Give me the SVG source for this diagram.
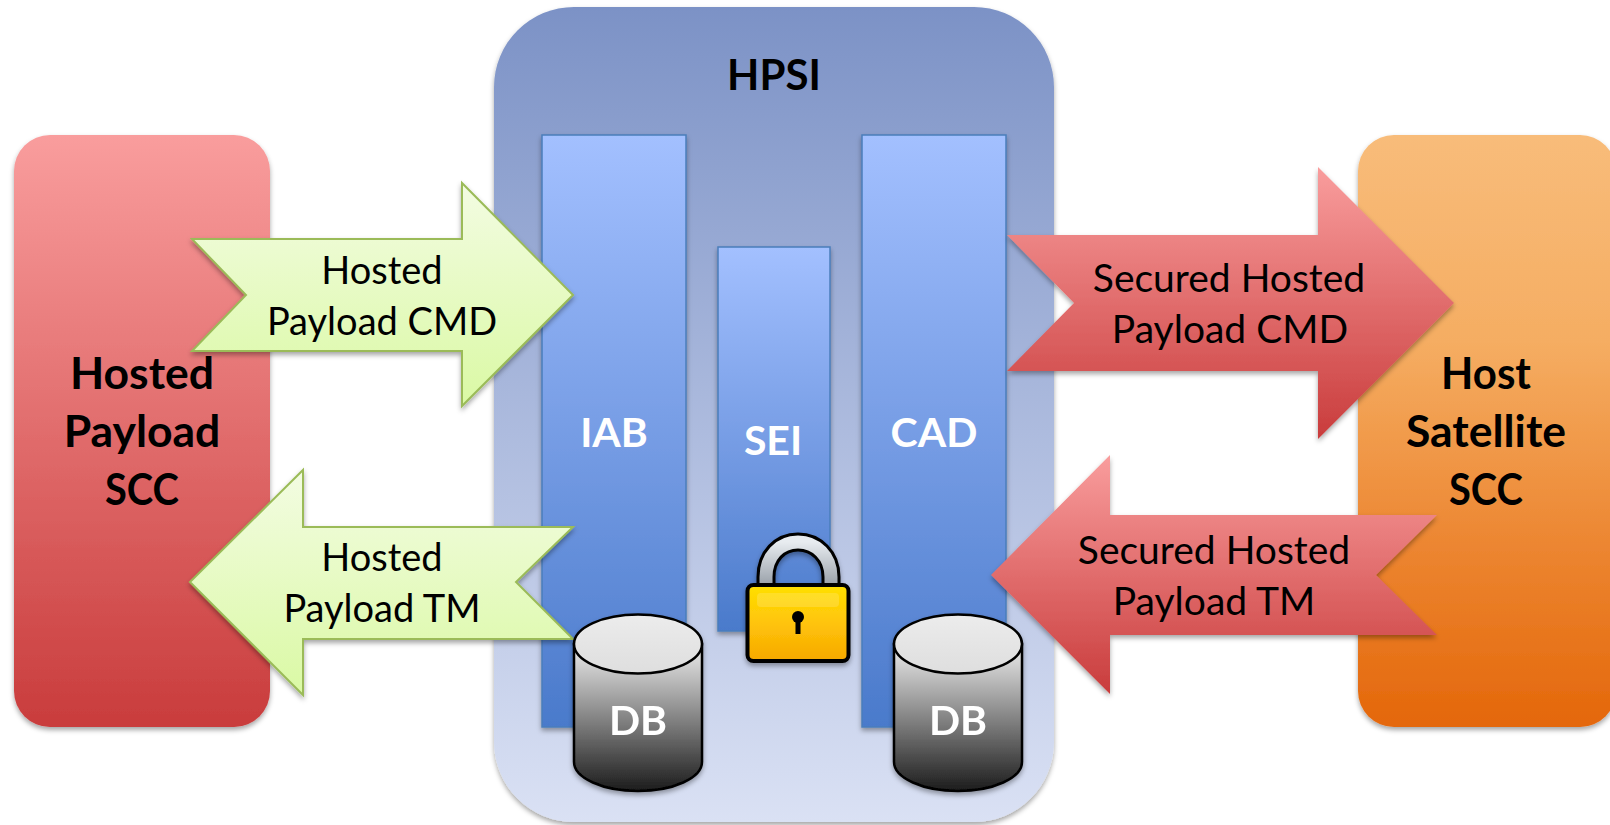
<svg xmlns="http://www.w3.org/2000/svg" width="1610" height="825" viewBox="0 0 1610 825">
<defs>
<linearGradient id="gHpsi" x1="0" y1="0" x2="0" y2="1"><stop offset="0" stop-color="#7c92c6"/><stop offset="1" stop-color="#dae1f4"/></linearGradient>
<linearGradient id="gBar" x1="0" y1="0" x2="0" y2="1"><stop offset="0" stop-color="#a3c0ff"/><stop offset="1" stop-color="#4a7acb"/></linearGradient>
<linearGradient id="gRed" x1="0" y1="0" x2="0" y2="1"><stop offset="0" stop-color="#f99d9d"/><stop offset="1" stop-color="#c93c3c"/></linearGradient>
<linearGradient id="gOrange" x1="0" y1="0" x2="0" y2="1"><stop offset="0" stop-color="#f8bc7a"/><stop offset="0.35" stop-color="#f5ad62"/><stop offset="0.7" stop-color="#ec8530"/><stop offset="1" stop-color="#e4670a"/></linearGradient>
<linearGradient id="gGreen" x1="0" y1="0" x2="0" y2="1"><stop offset="0" stop-color="#f3fce2"/><stop offset="1" stop-color="#daf9a4"/></linearGradient>
<linearGradient id="gCyl" x1="0" y1="0" x2="0" y2="1"><stop offset="0" stop-color="#eeeeee"/><stop offset="1" stop-color="#1c1c1c"/></linearGradient>
<linearGradient id="gTop" x1="0" y1="0" x2="0" y2="1"><stop offset="0" stop-color="#ececec"/><stop offset="1" stop-color="#dedede"/></linearGradient>
<linearGradient id="gLock" x1="0" y1="0" x2="0" y2="1"><stop offset="0" stop-color="#ffe000"/><stop offset="0.5" stop-color="#ffc40a"/><stop offset="1" stop-color="#f6a800"/></linearGradient>
<linearGradient id="gShackle" x1="0" y1="0" x2="0" y2="1"><stop offset="0" stop-color="#e8ecf0"/><stop offset="1" stop-color="#8d959e"/></linearGradient>
<filter id="shadow" x="-10%" y="-10%" width="120%" height="120%"><feDropShadow dx="0" dy="3" stdDeviation="2.5" flood-color="#000" flood-opacity="0.35"/></filter>
</defs>
<style>
text{font-family:Lato,"Open Sans","Liberation Sans",sans-serif;text-anchor:middle}
.t{font-size:38px;fill:#000}
.s{font-size:39px;fill:#000}
.b{font-size:44.500px;font-weight:700;fill:#000}
.h{font-size:42px;font-weight:700;fill:#000}
.w{font-size:41px;font-weight:700;fill:#fff}
.bar{fill:url(#gBar);stroke:#4a7ebb;stroke-width:1.5;filter:url(#shadow)}
.red{fill:url(#gRed);filter:url(#shadow)}
.green{fill:url(#gGreen);stroke:#9bbb59;stroke-width:2;filter:url(#shadow)}
.cyl{fill:url(#gCyl);stroke:#000;stroke-width:2.5}
</style>
<g id="hpsi"><rect x="494" y="7" width="560" height="815" rx="80" fill="url(#gHpsi)" filter="url(#shadow)"/><text class="h" x="774" y="90">HPSI</text></g>
<g id="hosted-payload-scc"><rect x="14" y="135" width="256" height="592" rx="36" fill="url(#gRed)" filter="url(#shadow)"/><text class="b" x="142" y="389">Hosted</text><text class="b" x="142" y="447">Payload</text><text class="b" x="142" y="505" textLength="74" lengthAdjust="spacingAndGlyphs">SCC</text></g>
<g id="host-satellite-scc"><rect x="1358" y="135" width="258" height="592" rx="36" fill="url(#gOrange)" filter="url(#shadow)"/><text class="b" x="1486" y="389" textLength="90" lengthAdjust="spacingAndGlyphs">Host</text><text class="b" x="1486" y="447">Satellite</text><text class="b" x="1486" y="505" textLength="74" lengthAdjust="spacingAndGlyphs">SCC</text></g>
<g id="iab"><rect class="bar" x="542" y="135" width="144" height="592"/><text class="w" x="614" y="447">IAB</text></g>
<g id="sei"><rect class="bar" x="718" y="247" width="112" height="384"/><text class="w" x="773" y="455">SEI</text></g>
<g id="cad"><rect class="bar" x="862" y="135" width="144" height="592"/><text class="w" x="934" y="447">CAD</text></g>
<g id="connectors">
<g id="arrow-hosted-cmd"><path class="green" d="M192 239H462V183L573 295L462 406V351H192L246 295Z"/><text class="t" x="382" y="284">Hosted</text><text class="t" x="382" y="335">Payload CMD</text></g>
<g id="arrow-hosted-tm"><path class="green" d="M190 582L303 470V527H573L516 582L573 639H303V695Z"/><text class="t" x="382" y="571">Hosted</text><text class="t" x="382" y="622">Payload TM</text></g>
<g id="arrow-secured-cmd"><path class="red" d="M1007 235H1318V167L1454 303L1318 439V371H1007L1074 303Z"/><text class="s" x="1229" y="292">Secured Hosted</text><text class="s" x="1230" y="343">Payload CMD</text></g>
<g id="arrow-secured-tm"><path class="red" d="M991 575L1110 455V515H1437L1376 575L1437 635H1110V694Z"/><text class="s" x="1214" y="564">Secured Hosted</text><text class="s" x="1214" y="615">Payload TM</text></g>
</g>
<g id="db-left" filter="url(#shadow)"><path class="cyl" d="M574 644V762C574 778 603 791 638 791S702 778 702 762V644Z"/><ellipse cx="638" cy="644" rx="64" ry="29.5" fill="url(#gTop)" stroke="#000" stroke-width="2.5"/><text class="w" x="638" y="735">DB</text></g>
<g id="db-right" filter="url(#shadow)"><path class="cyl" d="M894 644V762C894 778 923 791 958 791S1022 778 1022 762V644Z"/><ellipse cx="958" cy="644" rx="64" ry="29.5" fill="url(#gTop)" stroke="#000" stroke-width="2.5"/><text class="w" x="958" y="735">DB</text></g>
<g id="lock" filter="url(#shadow)">
<path d="M766 592V577C766 556 780 542 798 542S831 556 831 577V592" fill="none" stroke="#000" stroke-width="19"/>
<path d="M766 592V577C766 556 780 542 798 542S831 556 831 577V592" fill="none" stroke="url(#gShackle)" stroke-width="13"/>
<rect x="747.500" y="585" width="101" height="76" rx="6" fill="url(#gLock)" stroke="#000" stroke-width="4"/>
<rect x="757" y="593" width="82" height="14" rx="4" fill="#fff" opacity="0.15"/>
<circle cx="798" cy="617" r="6" fill="#000"/><rect x="795.500" y="620" width="5" height="14" fill="#000"/>
</g>
</svg>
